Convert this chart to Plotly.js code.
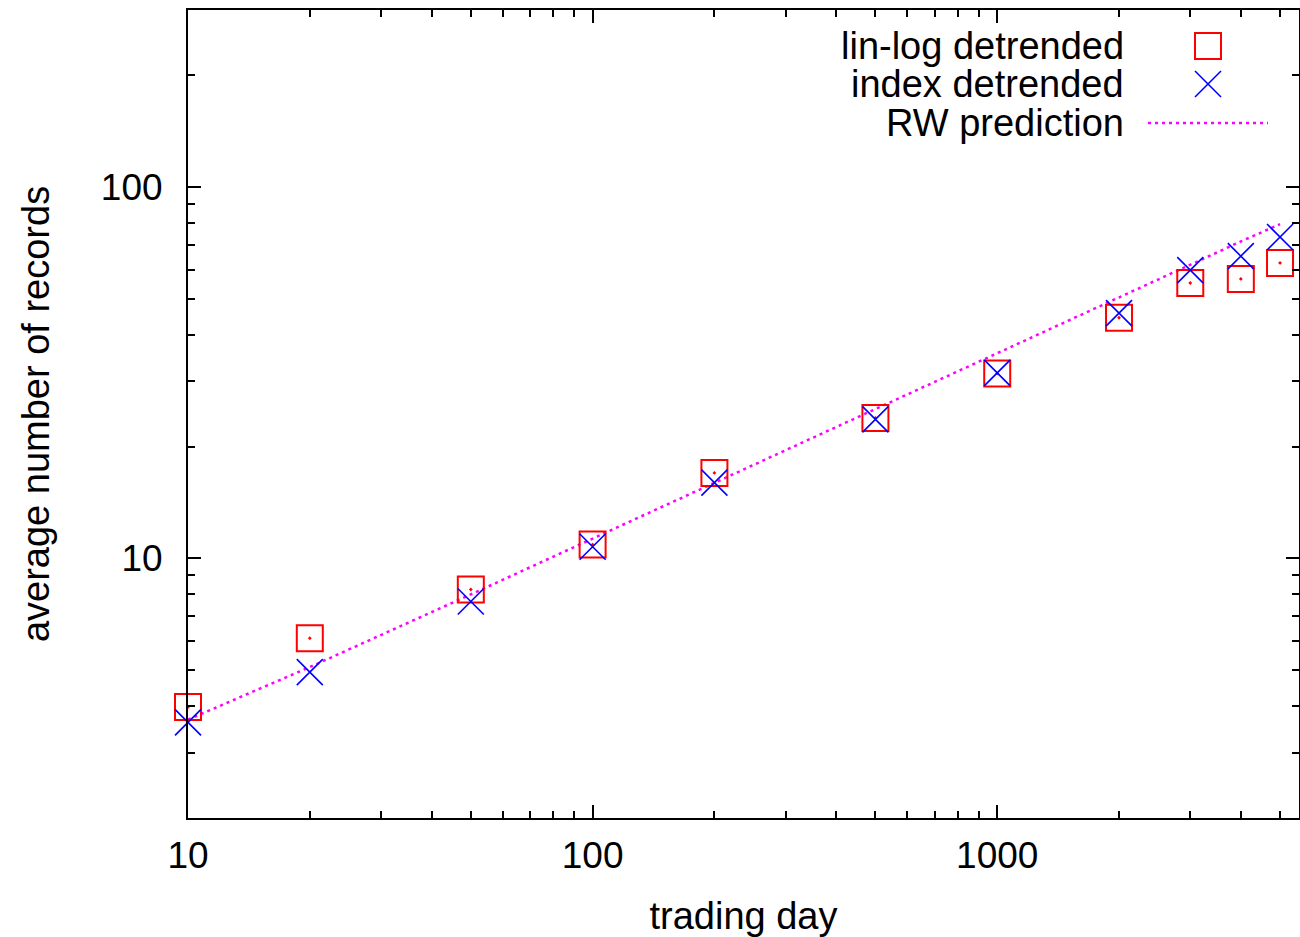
<!DOCTYPE html>
<html>
<head>
<meta charset="utf-8">
<script src="https://cdn.plot.ly/plotly-3.0.1.min.js"></script>
<style>html,body{margin:0;padding:0;background:#fff;}#chart{width:1300px;height:937px;}</style>
</head>
<body>
<div id="chart"></div>
<script>
// trading days
const days = [10, 20, 50, 100, 200, 500, 1000, 2000, 3000, 4000, 5000];
// average number of records, lin-log detrended
const linLog = [3.98, 6.1, 8.25, 10.9, 17.0, 23.9, 31.5, 44.5, 55.2, 56.6, 62.5];
// average number of records, index detrended
const indexDet = [3.62, 4.94, 7.66, 10.75, 16.0, 23.7, 31.6, 45.8, 59.8, 65.2, 73.4];
// RW prediction
const rwPred = [3.68, 5.1, 8.0, 11.3, 16.0, 25.2, 35.7, 50.5, 61.8, 71.4, 79.5];

const seriesNames = ["lin-log detrended", "index detrended", "RW prediction"];
const xTickVals = [10, 100, 1000];
const xMinor = [20,30,40,50,60,70,80,90,200,300,400,500,600,700,800,900,2000,3000,4000,5000];
const yTickVals = [10, 100];
const yMinor = [3,4,5,6,7,8,9,20,30,40,50,60,70,80,90,200,300];

const FONT = "Liberation Sans, Arial, Helvetica, sans-serif";

const traces = [
  {x: days, y: rwPred, name: seriesNames[2], mode: "lines", cliponaxis: false,
   line: {color: "#ff00ff", width: 2.5, dash: "3px,4px"}, showlegend: false},
  {x: days, y: linLog, name: seriesNames[0], mode: "markers", cliponaxis: false,
   marker: {symbol: "square-open-dot", size: 26, color: "#ff0000", line: {width: 2, color: "#ff0000"}}, showlegend: false},
  {x: days, y: indexDet, name: seriesNames[1], mode: "markers", cliponaxis: false,
   marker: {symbol: "x-thin-open", size: 26, color: "#0000ff", line: {width: 1.6, color: "#0000ff"}}, showlegend: false}
];

// plot area geometry for legend placement (paper units)
const L = 188, R = 1299, T = 10, B = 818;
const px = v => (v - L) / (R - L);
const py = v => (B - v) / (B - T);

const legendRows = [46, 84, 123];
const annotations = seriesNames.map((n, i) => ({
  text: n, xref: "paper", yref: "paper", x: px(1126), y: py(legendRows[i]),
  xanchor: "right", yanchor: "middle", showarrow: false,
  font: {family: FONT, size: 38, color: "#000"}
}));

const shapes = [
  {type: "rect", xref: "paper", yref: "paper", x0: px(1195), x1: px(1221), y0: py(59), y1: py(33),
   line: {color: "#ff0000", width: 2}},
  {type: "line", xref: "paper", yref: "paper", x0: px(1195), x1: px(1221), y0: py(71), y1: py(97),
   line: {color: "#0000ff", width: 1.6}},
  {type: "line", xref: "paper", yref: "paper", x0: px(1195), x1: px(1221), y0: py(97), y1: py(71),
   line: {color: "#0000ff", width: 1.6}},
  {type: "line", xref: "paper", yref: "paper", x0: px(1148), x1: px(1268), y0: py(123), y1: py(123),
   line: {color: "#ff00ff", width: 2.5, dash: "3px,4px"}}
];

const axisCommon = {
  type: "log", showgrid: false, zeroline: false,
  showline: true, linecolor: "#000", linewidth: 2, mirror: "ticks",
  ticks: "inside", ticklen: 13, tickwidth: 2, tickcolor: "#000",
  tickmode: "array", tickfont: {family: FONT, size: 37, color: "#000"}
};

const layout = {
  width: 1300, height: 937,
  margin: {l: L, r: 1300 - R, t: T, b: 937 - B},
  paper_bgcolor: "#fff", plot_bgcolor: "#fff",
  showlegend: false,
  font: {family: FONT, size: 38, color: "#000"},
  xaxis: Object.assign({}, axisCommon, {
    range: [1, Math.log10(5570)],
    tickvals: xTickVals, ticktext: xTickVals.map(String),
    ticklabelstandoff: 4,
    minor: {tickmode: "array", tickvals: xMinor, ticks: "inside", ticklen: 7, tickwidth: 2, tickcolor: "#000", showgrid: false},
    title: {text: "trading day", font: {family: FONT, size: 38, color: "#000"}, standoff: 30}
  }),
  yaxis: Object.assign({}, axisCommon, {
    range: [Math.log10(2), Math.log10(300)],
    tickvals: yTickVals, ticktext: yTickVals.map(String),
    ticklabelstandoff: 16,
    minor: {tickmode: "array", tickvals: yMinor, ticks: "inside", ticklen: 7, tickwidth: 2, tickcolor: "#000", showgrid: false},
    title: {text: "average number of records", font: {family: FONT, size: 38, color: "#000"}, standoff: 40}
  }),
  annotations: annotations,
  shapes: shapes
};

Plotly.newPlot("chart", traces, layout, {staticPlot: true, displayModeBar: false});
</script>
</body>
</html>
